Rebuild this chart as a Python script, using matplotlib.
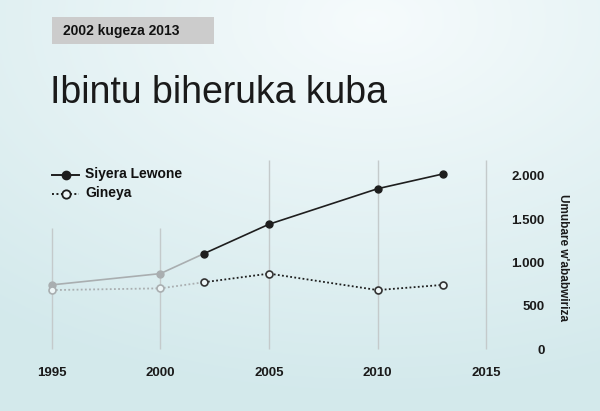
import numpy as np
import matplotlib.pyplot as plt
from matplotlib.ticker import FuncFormatter
from matplotlib.lines import Line2D
from matplotlib.patches import Rectangle

# Data
years = [1995, 2000, 2002, 2005, 2010, 2013]
siyera = [740, 870, 1100, 1440, 1850, 2020]
gineya = [680, 700, 770, 870, 680, 740]
grid_years = [1995, 2000, 2005, 2010, 2015]
grid_tops = [1400, 1400, 2180, 2180, 2180]
y_ticks = [0, 500, 1000, 1500, 2000]

W, H = 600, 411
fig = plt.figure(figsize=(6, 4.11), dpi=100)

# background gradient
bg = fig.add_axes([0, 0, 1, 1])
yy, xx = np.mgrid[0:1:200j, 0:1:300j]
r = np.sqrt(((xx - 0.62) * 1.0) ** 2 + ((yy - 0.05) * 1.1) ** 2)
r = np.clip(r / 1.0, 0, 1)
c0 = np.array([0.965, 0.985, 0.99])
c1 = np.array([0.83, 0.915, 0.925])
img = c0 + (c1 - c0) * r[..., None]
bg.imshow(img, aspect='auto', extent=[0, 1, 1, 0])
bg.set_xlim(0, 1)
bg.set_ylim(1, 0)
bg.axis('off')

# main axes: 1995 -> 51.7px, 2015 -> 486.3px, 0 -> 349px, 2000 -> 175.7px
x0, x1 = 51.7, 486.3
ybot, y2000 = 349, 175.7
ytop = 2180
ypx_top = ybot - (ybot - y2000) * ytop / 2000
ax = fig.add_axes([x0 / W, (H - ybot) / H, (x1 - x0) / W, (ybot - ypx_top) / H])
ax.patch.set_alpha(0)
ax.set_xlim(1995, 2015)
ax.set_ylim(0, ytop)
for s in ax.spines.values():
    s.set_visible(False)

ax.vlines(grid_years, 0, grid_tops, color='#c4cacb', lw=1, zorder=1, clip_on=False)

grey = '#a9aeb0'
dark = '#1e1e1e'
dots = (0, (1, 1.3))
# Siyera Lewone
ax.plot(years[:3], siyera[:3], color=grey, lw=1.2, zorder=2, clip_on=False)
ax.plot(years[:2], siyera[:2], 'o', color=grey, ms=5, zorder=3, clip_on=False)
ax.plot(years[2:], siyera[2:], color=dark, lw=1.2, marker='o', ms=5, zorder=3)
# Gineya
ax.plot(years[:3], gineya[:3], color=grey, lw=1.3, ls=dots, zorder=2, clip_on=False)
ax.plot(years[:2], gineya[:2], 'o', color=grey, mfc='#eef6f7', mew=1.2, ms=5, zorder=3,
        clip_on=False)
ax.plot(years[2:], gineya[2:], color=dark, lw=1.3, ls=dots, zorder=2)
ax.plot(years[2:], gineya[2:], 'o', color='#333333', mfc='#eef6f7', mew=1.2, ms=5, zorder=3)

ax.set_xticks(grid_years)
ax.set_yticks(y_ticks)
ax.yaxis.tick_right()
ax.tick_params(axis='both', length=0, labelsize=9.5, labelcolor='#1a1a1a')
ax.tick_params(axis='x', pad=13)
ax.tick_params(axis='y', pad=42)
ax.yaxis.set_major_formatter(FuncFormatter(lambda v, p: f'{int(v):,}'.replace(',', '.')))
for t in ax.get_xticklabels() + ax.get_yticklabels():
    t.set_fontweight('bold')
    t.set_family('Liberation Sans')
for t in ax.get_yticklabels():
    t.set_ha('right')

fig.text(563 / W, 1 - 257 / H, "Umubare w'ababwiriza", rotation=-90, ha='center', va='center',
         fontsize=8.5, fontweight='bold', family='Liberation Sans', color='#1a1a1a')

# header box
fig.patches.append(Rectangle((52 / W, 1 - 44 / H), 162 / W, 27 / H, transform=fig.transFigure,
                             facecolor='#cccccc', edgecolor='none'))
fig.text(63 / W, 1 - 31 / H, '2002 kugeza 2013', ha='left', va='center', fontsize=10,
         fontweight='bold', family='Liberation Sans', color='#111111')

# title
fig.text(50 / W, 1 - 93 / H, 'Ibintu biheruka kuba', ha='left', va='center', fontsize=27,
         family='Liberation Sans', color='#1a1a1a')

# legend
fig.lines.append(Line2D([52 / W, 79 / W], [1 - 175 / H] * 2, transform=fig.transFigure,
                        color=dark, lw=1.4))
fig.lines.append(Line2D([65.5 / W], [1 - 175 / H], transform=fig.transFigure,
                        color=dark, marker='o', ms=6))
fig.lines.append(Line2D([52 / W, 79 / W], [1 - 194 / H] * 2, transform=fig.transFigure,
                        color=dark, lw=1.4, ls=dots))
fig.lines.append(Line2D([65.5 / W], [1 - 194 / H], transform=fig.transFigure,
                        color=dark, marker='o', mfc='#eef6f7', mew=1.3, ms=6))
fig.text(85 / W, 1 - 174 / H, 'Siyera Lewone', ha='left', va='center', fontsize=10,
         fontweight='bold', family='Liberation Sans', color='#111111')
fig.text(85 / W, 1 - 193 / H, 'Gineya', ha='left', va='center', fontsize=10,
         fontweight='bold', family='Liberation Sans', color='#111111')

fig.savefig('out.png', dpi=100)
